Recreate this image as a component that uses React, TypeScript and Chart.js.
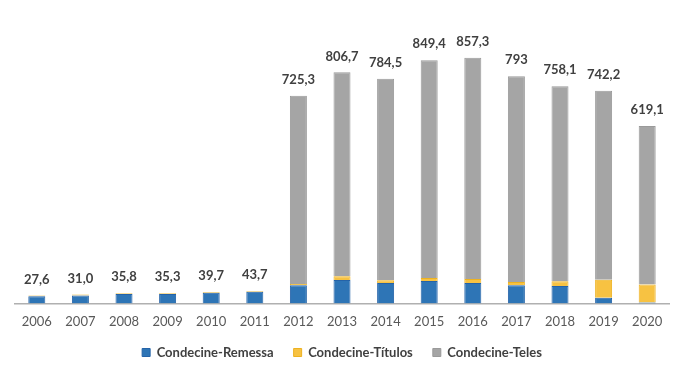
import React, { useEffect, useRef } from "react";
import { Chart, registerables } from "chart.js";

Chart.register(...registerables);

const years = ["2006","2007","2008","2009","2010","2011","2012","2013","2014","2015","2016","2017","2018","2019","2020"];
const remessa = [24.6, 28.0, 33.0, 32.5, 37.0, 41.0, 63, 82, 71, 78, 71, 63, 61, 20, 3];
const titulos = [3.0, 3.0, 2.8, 2.8, 2.7, 2.7, 5, 13, 9.5, 10.5, 14, 12, 16, 63, 63];
const teles = [0, 0, 0, 0, 0, 0, 657.3, 711.7, 704, 760.9, 772.3, 718, 681.1, 659.2, 553.1];
const totalLabels = ["27,6","31,0","35,8","35,3","39,7","43,7","725,3","806,7","784,5","849,4","857,3","793","758,1","742,2","619,1"];

const totalsPlugin = {
  id: "totals",
  afterDatasetsDraw(chart: any) {
    const ctx = chart.ctx;
    const yScale = chart.scales.y;
    const xScale = chart.scales.x;
    ctx.save();
    ctx.font = "bold 13px Lato";
    ctx.fillStyle = "#404040";
    ctx.textAlign = "center";
    ctx.textBaseline = "middle";
    years.forEach((_, i) => {
      const total = remessa[i] + titulos[i] + teles[i];
      const x = xScale.getPixelForValue(i);
      const y = yScale.getPixelForValue(total);
      ctx.fillText(totalLabels[i], x, y - 16);
    });
    ctx.restore();
  },
};

export default function App() {
  const ref = useRef<HTMLCanvasElement>(null);
  useEffect(() => {
    if (!ref.current) return;
    const chart = new Chart(ref.current, {
      type: "bar",
      data: {
        labels: years,
        datasets: [
          { label: "Condecine-Remessa", data: remessa, backgroundColor: "#2E75B6", borderColor: "#2563A8", borderWidth: 1 },
          { label: "Condecine-Títulos", data: titulos, backgroundColor: "#F7C242", borderColor: "#EDB220", borderWidth: 1 },
          { label: "Condecine-Teles", data: teles, backgroundColor: "#A5A5A5", borderColor: "#9A9A9A", borderWidth: 1 },
        ],
      },
      options: {
        animation: false,
        responsive: false,
        maintainAspectRatio: false,
        layout: { padding: { left: 15, right: 31, top: 17, bottom: 1 } },
        datasets: { bar: { barPercentage: 0.39, categoryPercentage: 1 } },
        scales: {
          x: {
            stacked: true,
            grid: { display: false, drawTicks: false },
            border: { display: true, color: "#B0B0B0", width: 1.5 },
            ticks: { color: "#595959", font: { family: "Lato", size: 13 }, padding: 11 },
            afterFit: (scale: any) => { scale.height = scale.height - 15; },
          },
          y: {
            stacked: true,
            display: false,
            min: 0,
            max: 1000,
          },
        },
        plugins: {
          legend: {
            position: "bottom",
            labels: {
              boxWidth: 8,
              boxHeight: 8,
              padding: 20,
              color: "#404040",
              font: { family: "Lato", size: 13, weight: "bold" },
            },
          },
          tooltip: { enabled: false },
        },
      },
      plugins: [totalsPlugin],
    });
    return () => chart.destroy();
  }, []);
  return (
    <div style={{ position: "fixed", left: 0, top: 0, width: 700, height: 370, background: "#fff" }}>
      <canvas ref={ref} width={700} height={370} style={{ width: 700, height: 370 }} />
    </div>
  );
}
